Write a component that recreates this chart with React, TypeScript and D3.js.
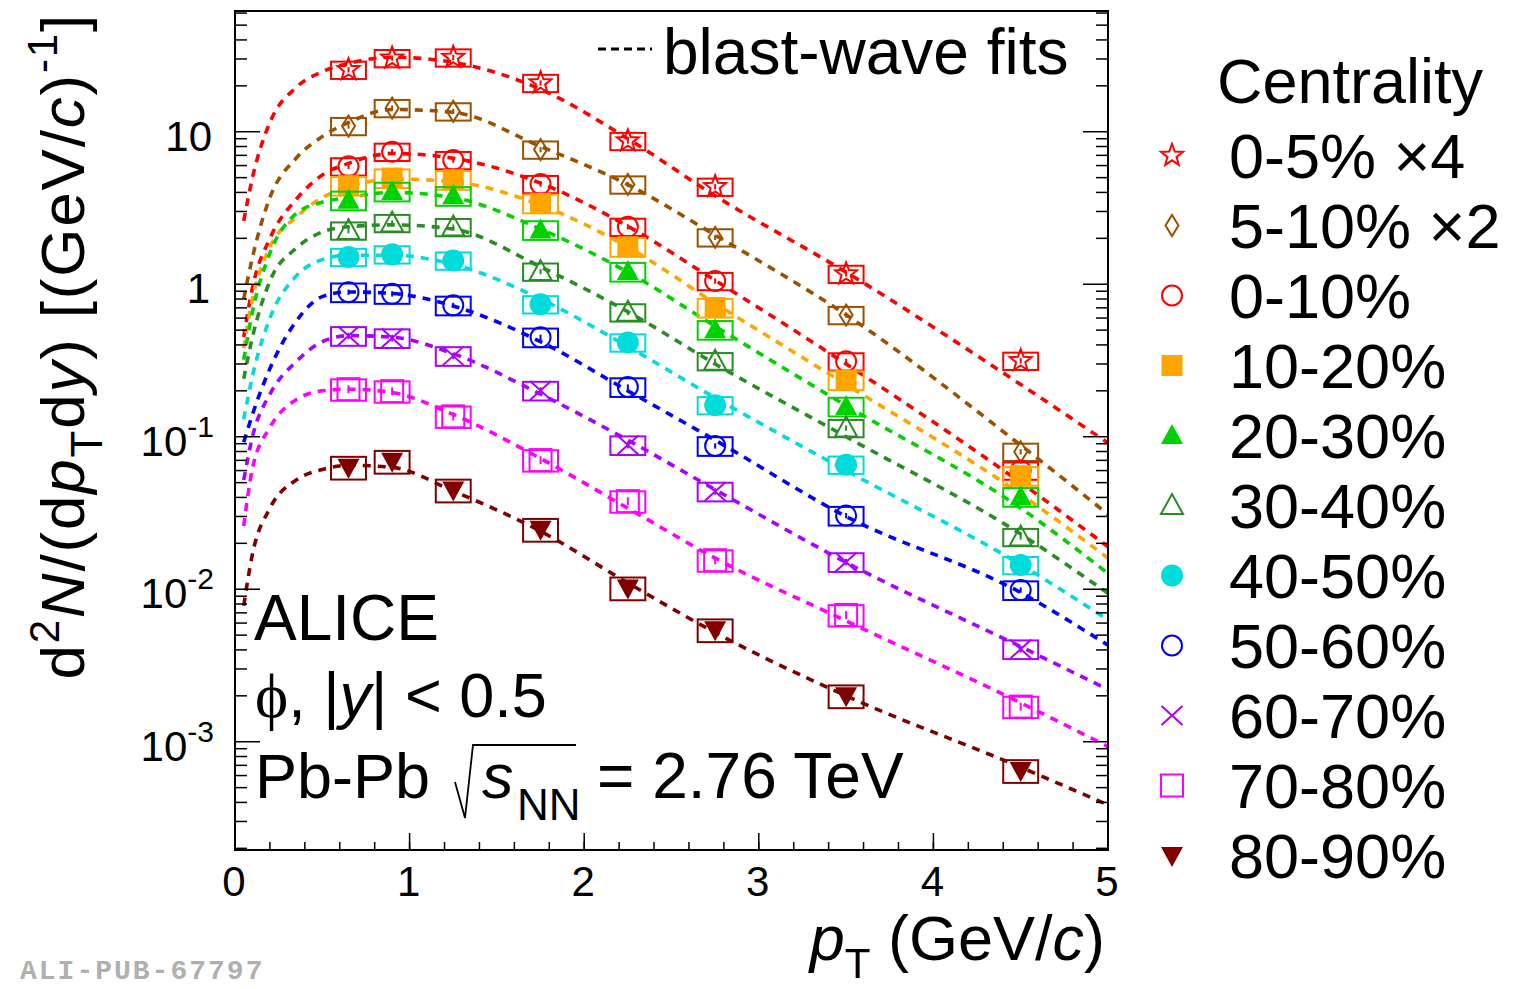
import React from "react";
import * as d3 from "d3";

// ---------- data ----------
const ptCenters = [0.65, 0.9, 1.25, 1.75, 2.25, 2.75, 3.5, 4.5];
const fitPt = [0.05, 0.1, 0.2, 0.35, 0.5, 0.65, 0.9, 1.25, 1.75, 2.25, 2.75, 3.5, 4.5, 5.0];

const centralityLabels = ["0-5% ×4", "5-10% ×2", "0-10%", "10-20%", "20-30%", "30-40%", "40-50%", "50-60%", "60-70%", "70-80%", "80-90%"];
const seriesColors = ["#ff0000", "#9c5100", "#ff0000", "#ffa500", "#00d200", "#2a8c24", "#00dcdc", "#0000ff", "#aa00ff", "#ff00ff", "#800000"];
const seriesMarkers = ["openStar", "openDiamond", "openCircle", "fullSquare", "fullTriUp", "openTriUp", "fullCircle", "openCircle", "cross", "openSquare", "fullTriDown"];

const yield_0_5 = [25.5, 30.4, 30.7, 20.9, 8.7, 4.36, 1.17, 0.315];
const yield_5_10 = [10.9, 14.3, 13.6, 7.64, 4.51, 2.03, 0.628, 0.0797];
const yield_0_10 = [5.93, 7.39, 6.52, 4.54, 2.38, 1.05, 0.312, 0.06];
const yield_10_20 = [4.43, 4.97, 4.84, 3.39, 1.76, 0.703, 0.235, 0.0555];
const yield_20_30 = [3.55, 4.06, 3.8, 2.27, 1.21, 0.503, 0.158, 0.0404];
const yield_30_40 = [2.25, 2.52, 2.37, 1.21, 0.654, 0.313, 0.114, 0.022];
const yield_40_50 = [1.51, 1.57, 1.43, 0.739, 0.415, 0.161, 0.0656, 0.0144];
const yield_50_60 = [0.887, 0.865, 0.727, 0.449, 0.212, 0.0871, 0.0304, 0.00988];
const yield_60_70 = [0.459, 0.444, 0.339, 0.201, 0.0882, 0.0438, 0.0151, 0.00405];
const yield_70_80 = [0.205, 0.199, 0.136, 0.0703, 0.0378, 0.0155, 0.00678, 0.0017];
const yield_80_90 = [0.0631, 0.069, 0.0447, 0.0247, 0.0102, 0.00542, 0.002, 0.000647];

const fit_0_5 = [2.6, 5.0, 11.5, 19.5, 24.8, 28, 30.8, 28.5, 19, 9.0, 3.8, 1.2, 0.22, 0.091];
const fit_5_10 = [0.8, 1.5, 3.7, 6.7, 9.3, 11.5, 14.0, 13.4, 8.0, 4.5, 2.1, 0.63, 0.088, 0.031];
const fit_0_10 = [0.45, 0.95, 2.0, 3.6, 5.2, 6.2, 7.2, 6.7, 4.6, 2.4, 1.06, 0.3, 0.05, 0.019];
const fit_10_20 = [0.38, 0.8, 1.75, 2.75, 3.7, 4.35, 4.9, 4.7, 3.3, 1.75, 0.75, 0.22, 0.042, 0.016];
const fit_20_30 = [0.32, 0.66, 1.6, 2.9, 3.45, 3.7, 4.0, 3.7, 2.3, 1.2, 0.53, 0.16, 0.034, 0.0127];
const fit_30_40 = [0.24, 0.45, 1.05, 1.72, 2.2, 2.38, 2.45, 2.3, 1.3, 0.66, 0.3, 0.1, 0.023, 0.0094];
const fit_40_50 = [0.13, 0.25, 0.6, 1.13, 1.45, 1.55, 1.55, 1.35, 0.8, 0.39, 0.18, 0.06, 0.0145, 0.0063];
const fit_50_60 = [0.092, 0.14, 0.28, 0.57, 0.83, 0.89, 0.87, 0.72, 0.42, 0.2, 0.095, 0.03, 0.0095, 0.0043];
const fit_60_70 = [0.052, 0.1, 0.19, 0.31, 0.42, 0.46, 0.45, 0.35, 0.19, 0.095, 0.045, 0.015, 0.0042, 0.0022];
const fit_70_80 = [0.026, 0.062, 0.115, 0.175, 0.2, 0.205, 0.195, 0.14, 0.072, 0.034, 0.016, 0.0062, 0.0018, 0.00093];
const fit_80_90 = [0.0078, 0.017, 0.034, 0.052, 0.061, 0.065, 0.063, 0.044, 0.024, 0.011, 0.0052, 0.002, 0.00068, 0.000385];

const systRel = [0.13, 0.13, 0.13, 0.14, 0.14, 0.13, 0.13, 0.14, 0.14, 0.16, 0.17];
const statRel = [0.04, 0.04, 0.04, 0.04, 0.04, 0.04, 0.04, 0.04, 0.05, 0.06, 0.07];

const allYields = [yield_0_5, yield_5_10, yield_0_10, yield_10_20, yield_20_30, yield_30_40, yield_40_50, yield_50_60, yield_60_70, yield_70_80, yield_80_90];
const allFits = [fit_0_5, fit_5_10, fit_0_10, fit_10_20, fit_20_30, fit_30_40, fit_40_50, fit_50_60, fit_60_70, fit_70_80, fit_80_90];

const xTickValues = [0, 1, 2, 3, 4, 5];
const yTickExponents = [-3, -2, -1, 0, 1];

// ---------- layout ----------
const W = 1521, H = 989;
const L = 235, R = 1108, T = 11, B = 850;
const FONT = "'Liberation Sans', Arial, Helvetica, sans-serif";

const xScale = d3.scaleLinear().domain([0, 5]).range([L, R]);
const yScale = d3.scaleLog().domain([1.95e-4, 61.9]).range([B, T]);

function starPath(R0: number, r0: number) {
  const pts: string[] = [];
  for (let i = 0; i < 10; i++) {
    const a = -Math.PI / 2 + (i * Math.PI) / 5;
    const rr = i % 2 === 0 ? R0 : r0;
    pts.push(`${(rr * Math.cos(a)).toFixed(2)},${(rr * Math.sin(a)).toFixed(2)}`);
  }
  return "M" + pts.join("L") + "Z";
}

function Marker({ type, color, x, y, s = 1 }: { type: string; color: string; x: number; y: number; s?: number }) {
  const sw = 2;
  const tr = `translate(${x},${y}) scale(${s})`;
  const w = sw / s;
  switch (type) {
    case "openStar":
      return <path transform={tr} d={starPath(11.5, 4.8)} fill="none" stroke={color} strokeWidth={w} />;
    case "openDiamond":
      return <path transform={tr} d="M0,-10.5L6.5,0L0,10.5L-6.5,0Z" fill="none" stroke={color} strokeWidth={w} />;
    case "openCircle":
      return <circle transform={tr} r={10} fill="none" stroke={color} strokeWidth={w} />;
    case "fullSquare":
      return <rect transform={tr} x={-10.5} y={-10.5} width={21} height={21} fill={color} />;
    case "fullTriUp":
      return <path transform={tr} d="M0,-11.5L11,8.5L-11,8.5Z" fill={color} />;
    case "openTriUp":
      return <path transform={tr} d="M0,-11.5L11,8.5L-11,8.5Z" fill="none" stroke={color} strokeWidth={w} />;
    case "fullCircle":
      return <circle transform={tr} r={11} fill={color} />;
    case "cross":
      return <path transform={tr} d="M-10.5,-9.5L10.5,9.5M-10.5,9.5L10.5,-9.5" fill="none" stroke={color} strokeWidth={w} />;
    case "openSquare":
      return <rect transform={tr} x={-11} y={-11} width={22} height={22} fill="none" stroke={color} strokeWidth={w} />;
    case "fullTriDown":
      return <path transform={tr} d="M0,11.5L11,-8.5L-11,-8.5Z" fill={color} />;
    default:
      return null;
  }
}

export default function App() {
  const line = d3
    .line<[number, number]>()
    .x((d) => xScale(d[0]))
    .y((d) => yScale(d[1]))
    .curve(d3.curveMonotoneX);

  const xMinor: number[] = [];
  for (let v = 0; v <= 5.0001; v += 0.2) xMinor.push(+v.toFixed(2));
  const yMinor: number[] = [];
  for (let e = -4; e <= 1; e++) {
    for (let m = 2; m <= 9; m++) {
      const v = m * Math.pow(10, e);
      if (v >= 1.95e-4 && v <= 61.9) yMinor.push(v);
    }
  }

  const legendRowY = (i: number) => 155.5 + i * 70;

  return (
    <svg width={W} height={H} style={{ position: "absolute", left: 0, top: 0, background: "#fff" }} fontFamily={FONT}>
      <defs>
        <clipPath id="frameClip">
          <rect x={L} y={T} width={R - L} height={B - T} />
        </clipPath>
      </defs>
      <rect x={0} y={0} width={W} height={H} fill="#fff" />

      {/* fits */}
      <g clipPath="url(#frameClip)">
        {allFits.map((f, i) => (
          <path
            key={"fit" + i}
            d={line(fitPt.map((p, k) => [p, f[k]] as [number, number])) || ""}
            fill="none"
            stroke={seriesColors[i]}
            strokeWidth={3.6}
            strokeDasharray="8,7"
          />
        ))}
      </g>

      {/* data */}
      <g clipPath="url(#frameClip)">
        {allYields.map((ys, i) => (
          <g key={"s" + i}>
            {ys.map((v, k) => {
              const x0 = xScale(ptCenters[k] - 0.1);
              const x1 = xScale(ptCenters[k] + 0.1);
              const yTop = yScale(v * (1 + systRel[i]));
              const yBot = yScale(v * (1 - systRel[i]));
              return (
                <g key={k}>
                  <rect x={x0} y={yTop} width={x1 - x0} height={yBot - yTop} fill="none" stroke={seriesColors[i]} strokeWidth={2} />
                  <line
                    x1={xScale(ptCenters[k])}
                    x2={xScale(ptCenters[k])}
                    y1={yScale(v * (1 + statRel[i]))}
                    y2={yScale(v * (1 - statRel[i]))}
                    stroke={seriesColors[i]}
                    strokeWidth={2}
                  />
                  <Marker type={seriesMarkers[i]} color={seriesColors[i]} x={xScale(ptCenters[k])} y={yScale(v)} />
                </g>
              );
            })}
          </g>
        ))}
      </g>

      {/* frame */}
      <rect x={L} y={T} width={R - L} height={B - T} fill="none" stroke="#000" strokeWidth={2} />

      {/* x ticks */}
      {xMinor.map((v, i) => (
        <line key={"xm" + i} x1={xScale(v)} x2={xScale(v)} y1={B} y2={B - 8} stroke="#000" strokeWidth={1.5} />
      ))}
      {xTickValues.map((v) => (
        <g key={"xt" + v}>
          <line x1={xScale(v)} x2={xScale(v)} y1={B} y2={B - 17} stroke="#000" strokeWidth={1.5} />
          <text x={xScale(v) - 1} y={896} textAnchor="middle" fontSize={42}>
            {v}
          </text>
        </g>
      ))}

      {/* y ticks */}
      {yMinor.map((v, i) => (
        <g key={"ym" + i}>
          <line x1={L} x2={L + 12} y1={yScale(v)} y2={yScale(v)} stroke="#000" strokeWidth={1.5} />
          <line x1={R} x2={R - 12} y1={yScale(v)} y2={yScale(v)} stroke="#000" strokeWidth={1.5} />
        </g>
      ))}
      {yTickExponents.map((e) => {
        const yy = yScale(Math.pow(10, e));
        return (
          <g key={"yt" + e}>
            <line x1={L} x2={L + 25} y1={yy} y2={yy} stroke="#000" strokeWidth={1.5} />
            <line x1={R} x2={R - 25} y1={yy} y2={yy} stroke="#000" strokeWidth={1.5} />
            {e === 0 ? (
              <text x={210} y={yy + 19} textAnchor="end" fontSize={42}>1</text>
            ) : e === 1 ? (
              <text x={212} y={yy + 19} textAnchor="end" fontSize={42}>10</text>
            ) : (
              <text x={214} y={yy + 19} textAnchor="end" fontSize={42}>
                10
                <tspan fontSize={30} dy={-19}>{"-" + Math.abs(e)}</tspan>
              </text>
            )}
          </g>
        );
      })}

      {/* axis titles */}
      <text x={1105} y={960} textAnchor="end" fontSize={63}>
        <tspan fontStyle="italic">p</tspan>
        <tspan fontSize={42} dy={18}>T</tspan>
        <tspan dy={-18}>{" (GeV/"}</tspan>
        <tspan fontStyle="italic">c</tspan>
        <tspan>)</tspan>
      </text>

      <text transform="translate(84,13) rotate(-90)" textAnchor="end" fontSize={62} letterSpacing={1.8}>
        <tspan>d</tspan>
        <tspan fontSize={42} dy={-25}>2</tspan>
        <tspan dy={25} fontStyle="italic">N</tspan>
        <tspan>/(d</tspan>
        <tspan fontStyle="italic">p</tspan>
        <tspan fontSize={44} dy={18}>T</tspan>
        <tspan dy={-18}>d</tspan>
        <tspan fontStyle="italic">y</tspan>
        <tspan>) [(GeV/</tspan>
        <tspan fontStyle="italic">c</tspan>
        <tspan>)</tspan>
        <tspan fontSize={42} dy={-27}>-1</tspan>
        <tspan dy={27}>]</tspan>
      </text>

      {/* blast-wave legend */}
      <line x1={598} x2={652} y1={49} y2={49} stroke="#000" strokeWidth={3} strokeDasharray="8,5" />
      <text x={663} y={74} fontSize={64}>blast-wave fits</text>

      {/* ALICE text */}
      <text x={254} y={640} fontSize={64}>ALICE</text>
      <text x={255} y={717} fontSize={63}>
        <tspan fontFamily="'Liberation Serif', 'DejaVu Serif', serif">ϕ</tspan>
        <tspan>, |</tspan>
        <tspan fontStyle="italic">y</tspan>
        <tspan>| &lt; 0.5</tspan>
      </text>
      <text x={255} y={798} fontSize={63}>Pb-Pb</text>
      <path d="M455,782 L465,818 L473,745 L576,745" fill="none" stroke="#000" strokeWidth={1.8} />
      <text x={482} y={798} fontSize={63} fontStyle="italic">s</text>
      <text x={517} y={820} fontSize={44}>NN</text>
      <text x={597} y={798} fontSize={64}>= 2.76 TeV</text>

      {/* legend */}
      <text x={1217} y={103} fontSize={63}>Centrality</text>
      {centralityLabels.map((lab, i) => (
        <g key={"lg" + i}>
          <Marker type={seriesMarkers[i]} color={seriesColors[i]} x={1172} y={legendRowY(i)} s={1.0} />
          <text x={1229} y={legendRowY(i) + 22.5} fontSize={63}>
            {lab}
          </text>
        </g>
      ))}

      {/* publication tag */}
      <text x={20} y={979} fontSize={28} fontWeight="bold" fill="#b0b0b0" letterSpacing={2} fontFamily="'Liberation Mono', 'DejaVu Sans Mono', monospace">
        ALI-PUB-67797
      </text>
    </svg>
  );
}
